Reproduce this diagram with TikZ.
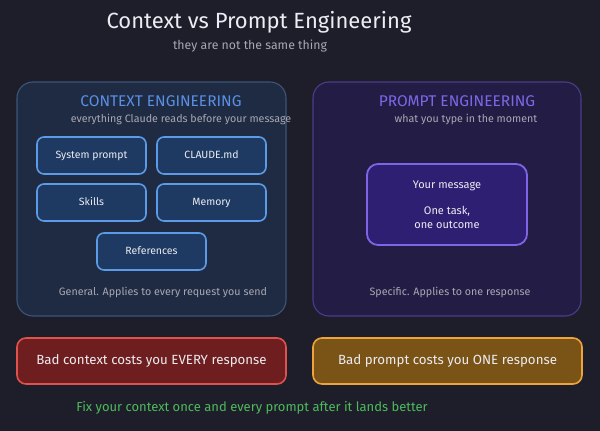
\documentclass[tikz,border=0pt]{standalone}
\usepackage{fontspec}
\setmainfont{Fira Sans}
\usepackage{tikz}

\definecolor{bgdark}{HTML}{1E1E2B}
\definecolor{ctxfill}{HTML}{1F2B42}
\definecolor{ctxline}{HTML}{3B5578}
\definecolor{itemfill}{HTML}{1E3A63}
\definecolor{itemline}{HTML}{5B9BE8}
\definecolor{prmfill}{HTML}{231D45}
\definecolor{prmline}{HTML}{4B3C8A}
\definecolor{msgfill}{HTML}{2E1F72}
\definecolor{msgline}{HTML}{8064E6}
\definecolor{badfill}{HTML}{6E1E1E}
\definecolor{badline}{HTML}{E0524E}
\definecolor{warnfill}{HTML}{7A5417}
\definecolor{warnline}{HTML}{F0A33A}
\definecolor{fixgreen}{HTML}{4CBB5A}
\definecolor{ctxblue}{HTML}{5A8FE6}
\definecolor{prmpurple}{HTML}{7C68E6}
\definecolor{softgrey}{HTML}{A8A8B4}
\definecolor{paper}{HTML}{ECECF2}

\begin{document}
\begin{tikzpicture}[x=1pt,y=-1pt,
    panel/.style={draw, rounded corners=16pt, line width=1.1pt},
    item/.style={draw=itemline, fill=itemfill, rounded corners=7pt, line width=1.6pt,
        minimum width=109pt, minimum height=37pt, text height=1.6ex, text depth=0.4ex,
        text=paper, font=\fontsize{10.5}{12}\selectfont},
    cost/.style={draw, rounded corners=9pt, line width=1.6pt, minimum width=269pt,
        minimum height=46pt, text=paper, font=\fontsize{13.3}{15}\selectfont},
    note/.style={text=softgrey, font=\fontsize{10.7}{12}\selectfont}]
    % Background and frame
    \fill[bgdark] (0,0) rectangle (600,431);
    \useasboundingbox (0,0) rectangle (600,431);
    % Heading
    \node[text=paper, font=\fontsize{22}{26}\selectfont] (title) at (259,22) {Context vs Prompt Engineering};
    \node[note, font=\fontsize{12.3}{14}\selectfont] (subtitle) at (250,46) {they are not the same thing};
    % Context side
    \node[panel, draw=ctxline, fill=ctxfill, minimum width=269pt, minimum height=234pt] (ctx) at (151.5,199) {};
    \node[text=ctxblue, font=\fontsize{15.5}{17}\selectfont] (ctxhead) at (161,101) {CONTEXT ENGINEERING};
    \node[note] (ctxsub) at (181,119) {everything Claude reads before your message};
    \node[item] (sysprompt) at (91.5,155.5) {System prompt};
    \node[item] (claudemd) at (211.5,155.5) {CLAUDE.md};
    \node[item] (skills) at (91.5,202.5) {Skills};
    \node[item] (memory) at (211.5,202.5) {Memory};
    \node[item] (refs) at (151.5,251.5) {References};
    \node[note] (ctxnote) at (163,292) {General. Applies to every request you send};
    % Prompt side
    \node[panel, draw=prmline, fill=prmfill, minimum width=268pt, minimum height=234pt] (prm) at (447,199) {};
    \node[text=prmpurple, font=\fontsize{15.5}{17}\selectfont] (prmhead) at (457,101) {PROMPT ENGINEERING};
    \node[note] (prmsub) at (466,119) {what you type in the moment};
    \node[draw=msgline, fill=msgfill, rounded corners=11pt, line width=1.8pt, minimum width=160pt,
        minimum height=81pt, text=paper, align=center, font=\fontsize{11}{14}\selectfont] (msg) at (447,204.5)
        {Your message\\[12pt]One task,\\one outcome};
    \node[note] (prmnote) at (450,292) {Specific. Applies to one response};
    % What it costs
    \node[cost, draw=badline, fill=badfill] (badctx) at (151.5,361) {Bad context costs you EVERY response};
    \node[cost, draw=warnline, fill=warnfill] (badprm) at (447.5,361) {Bad prompt costs you ONE response};
    \node[text=fixgreen, font=\fontsize{13}{15}\selectfont] (fix) at (252,408) {Fix your context once and every prompt after it lands better};
\end{tikzpicture}
\end{document}
